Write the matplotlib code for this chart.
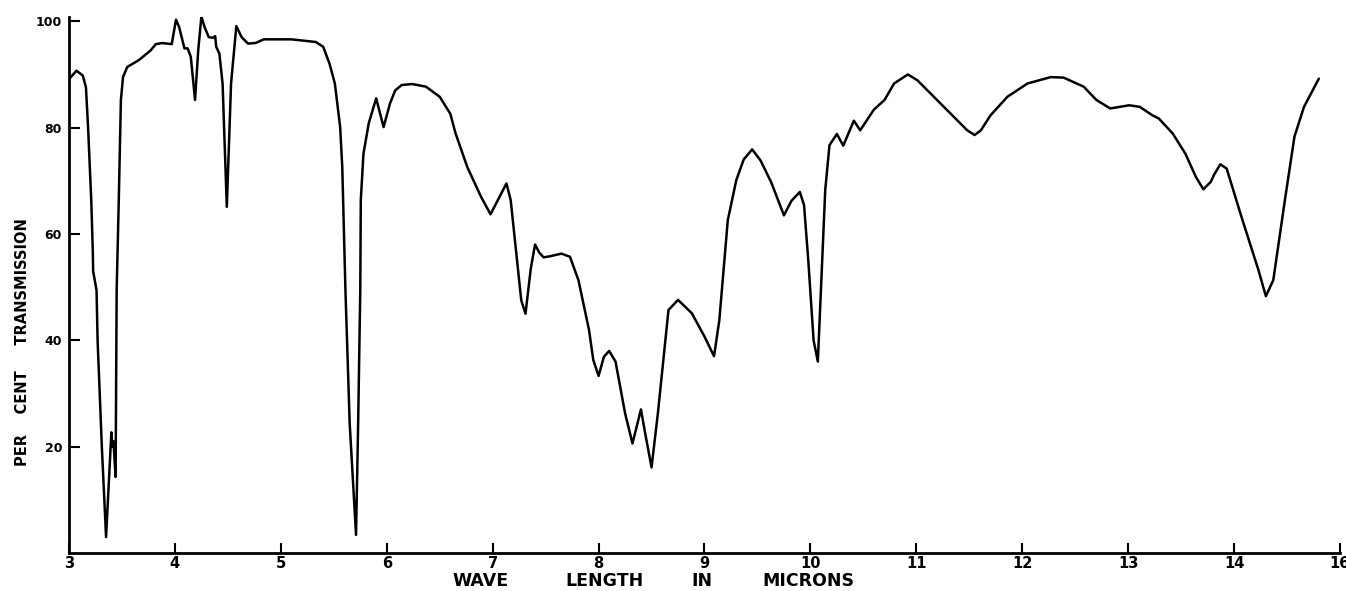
import matplotlib
matplotlib.use("Agg")
import matplotlib.pyplot as plt
from matplotlib.transforms import blended_transform_factory

# Wavelength (microns) and per cent transmission
wavelength = [3.00, 3.07, 3.13, 3.16, 3.18, 3.21, 3.225, 3.228, 3.26, 3.27,
              3.31, 3.35, 3.40, 3.41, 3.42, 3.44, 3.45, 3.47, 3.49, 3.51,
              3.55, 3.66, 3.77, 3.82, 3.88, 3.97, 4.01, 4.04, 4.09, 4.12,
              4.15, 4.19, 4.22, 4.25, 4.28, 4.32, 4.36, 4.38, 4.39, 4.42,
              4.45, 4.49, 4.53, 4.58, 4.63, 4.69, 4.76, 4.84, 5.10, 5.33,
              5.40, 5.46, 5.51, 5.56, 5.58, 5.61, 5.65, 5.71, 5.73, 5.75,
              5.755, 5.78, 5.83, 5.90, 5.97, 6.03, 6.08, 6.14, 6.24, 6.37,
              6.50, 6.60, 6.65, 6.76, 6.89, 6.98, 7.05, 7.13, 7.17, 7.21,
              7.27, 7.31, 7.36, 7.40, 7.44, 7.48, 7.54, 7.65, 7.73, 7.81,
              7.91, 7.95, 8.00, 8.05, 8.10, 8.16, 8.25, 8.32, 8.40, 8.44,
              8.50, 8.56, 8.66, 8.75, 8.88, 9.00, 9.09, 9.14, 9.22, 9.30,
              9.37, 9.45, 9.53, 9.63, 9.75, 9.82, 9.90, 9.94, 9.98, 10.03,
              10.07, 10.10, 10.14, 10.18, 10.25, 10.31, 10.41, 10.47, 10.60, 10.70,
              10.79, 10.92, 11.01, 11.26, 11.48, 11.55, 11.61, 11.70, 11.86, 12.05,
              12.27, 12.39, 12.58, 12.70, 12.83, 13.01, 13.11, 13.23, 13.29, 13.42,
              13.54, 13.64, 13.71, 13.78, 13.81, 13.87, 13.93, 14.07, 14.23, 14.30,
              14.37, 14.48, 14.57, 14.66, 14.80]
transmission = [89.1, 90.7, 89.8, 87.6, 80.1, 66.4, 56.5, 53.0, 49.4, 40.0,
                20.0, 3.0, 22.7, 20.0, 21.0, 14.3, 49.4, 66.4, 85.2, 89.5,
                91.4, 92.7, 94.5, 95.7, 95.9, 95.7, 100.3, 98.9, 94.9, 94.9,
                93.3, 85.2, 94.5, 100.9, 98.9, 97.0, 96.9, 97.2, 95.2, 93.9,
                88.3, 65.1, 88.3, 99.1, 97.0, 95.8, 95.9, 96.6, 96.6, 96.1,
                95.2, 92.0, 88.3, 80.1, 72.6, 49.4, 24.4, 3.4, 24.4, 49.4,
                66.4, 75.1, 80.8, 85.5, 80.1, 84.5, 87.0, 88.0, 88.2, 87.7,
                85.8, 82.6, 78.9, 72.6, 67.0, 63.7, 66.4, 69.5, 66.4, 58.8,
                47.5, 45.0, 53.5, 58.0, 56.5, 55.6, 55.8, 56.3, 55.7, 51.3,
                41.9, 36.3, 33.3, 36.9, 38.0, 36.0, 26.3, 20.6, 27.0, 22.5,
                16.1, 26.3, 45.7, 47.6, 45.1, 40.7, 37.0, 43.8, 62.6, 70.1,
                74.0, 75.9, 73.8, 69.7, 63.5, 66.2, 67.9, 65.4, 55.0, 40.0,
                36.0, 50.0, 68.3, 76.7, 78.8, 76.6, 81.3, 79.5, 83.4, 85.2,
                88.3, 90.0, 88.9, 83.9, 79.5, 78.6, 79.5, 82.3, 85.8, 88.3,
                89.5, 89.4, 87.7, 85.2, 83.6, 84.2, 83.9, 82.3, 81.7, 78.9,
                75.1, 70.7, 68.4, 69.8, 71.1, 73.1, 72.3, 63.2, 53.2, 48.3,
                51.3, 66.4, 78.3, 83.9, 89.2]

x_ticks = [3, 4, 5, 6, 7, 8, 9, 10, 11, 12, 13, 14, 15]
x_tick_labels = ["3", "4", "5", "6", "7", "8", "9", "10", "11", "12", "13", "14", "16"]
y_ticks = [20, 40, 60, 80, 100]
y_tick_labels = ["20", "40", "60", "80", "100"]
x_label_words = ["WAVE", "LENGTH", "IN", "MICRONS"]
x_label_pos = [6.89, 8.06, 8.98, 9.98]
y_label = "PER    CENT     TRANSMISSION"

W, H = 1346, 591
fig = plt.figure(figsize=(W / 100, H / 100), dpi=100)
ax = fig.add_axes([69 / W, 1 - 553 / H, (1340 - 69) / W, (553 - 17) / H])

ax.plot(wavelength, transmission, color="black", lw=1.8,
        solid_joinstyle="round", solid_capstyle="round")

ax.set_xlim(3, 15)
ax.set_ylim(0, 100.8)
for s in ["top", "right"]:
    ax.spines[s].set_visible(False)
for s in ["left", "bottom"]:
    ax.spines[s].set_linewidth(2.0)
    ax.spines[s].set_color("black")

ax.set_xticks(x_ticks)
ax.set_xticklabels(x_tick_labels, fontsize=10.5, fontweight="bold")
ax.set_yticks(y_ticks)
ax.set_yticklabels(y_tick_labels, fontsize=9, fontweight="bold")
ax.tick_params(axis="x", direction="in", length=7, width=1.5, pad=2)
ax.tick_params(axis="y", direction="in", length=8, width=1.5, pad=5)

trans = blended_transform_factory(ax.transData, fig.transFigure)
for word, xp in zip(x_label_words, x_label_pos):
    fig.text(xp, 1 - 581 / H, word, transform=trans, ha="center", va="center",
             fontsize=12.5, fontweight="bold")

fig.text(23 / W, 1 - 342 / H, y_label, rotation=90, ha="center", va="center",
         fontsize=10.5, fontweight="bold")

fig.savefig("out.png", dpi=100, facecolor="white")
